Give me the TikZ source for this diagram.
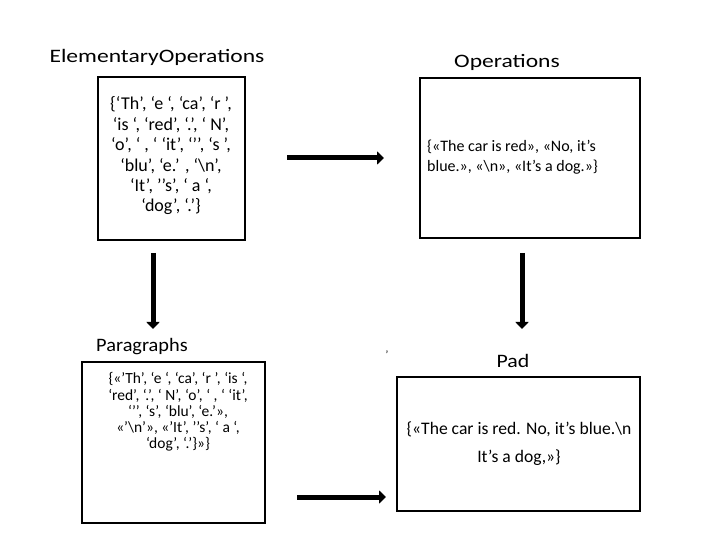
\documentclass[tikz,border=0pt]{standalone}
\usepackage{fontspec}
\usepackage{graphicx}
\setmainfont{Carlito}
\usetikzlibrary{arrows.meta}
\newcommand{\hstretch}[2]{\scalebox{#1}[1]{#2}}
\begin{document}
\begin{tikzpicture}[x=1pt,y=-1pt,
  boxe/.style={draw,line width=2.4pt},
  lbl/.style={font=\fontsize{19}{22}\selectfont,inner sep=0pt},
  txt/.style={align=center,inner sep=0pt},
  bigarrow/.style={line width=5pt,-{Triangle[width=13pt,length=7pt]}}]
\useasboundingbox (0,0) rectangle (715,553);
% boxes
\draw[boxe] (98,77) rectangle (245,240);
\draw[boxe] (420,78) rectangle (640,238);
\draw[boxe] (82,362) rectangle (265,523);
\draw[boxe] (397,377) rectangle (640,511);
% labels
\node[lbl] (l1) at (157,57) {\hstretch{1.24}{ElementaryOperations}};
\node[lbl] (l2) at (507,62) {\hstretch{1.24}{Operations}};
\node[lbl] (l3) at (142,347) {\hstretch{1.07}{Paragraphs}};
\node[lbl] (l4) at (513,361) {\hstretch{1.15}{Pad}};
\node[inner sep=0pt,font=\fontsize{11}{12}\selectfont] (mark) at (387,355) {’};
% texts
\node[txt,font=\fontsize{18}{20.4}\selectfont] (t1) at (171,156) {\{‘Th’, ‘e ‘, ‘ca’, ‘r ’,\\ ‘is ‘, ‘red’, ‘.’, ‘ N’,\\ ‘o’, ‘ , ‘ ‘it’, ‘’’, ‘s ’,\\ ‘blu’, ‘e.’ , ‘\textbackslash n’,\\ ‘It’, ’’s’, ‘ a ‘,\\ ‘dog’, ‘.’\}};
\node[txt,anchor=west,align=left,font=\fontsize{16}{20}\selectfont] (t2) at (427,157) {\{«The car is red», «No, it’s\\ blue.», «\textbackslash n», «It’s a dog.»\}};
\node[txt,font=\fontsize{15.5}{16.2}\selectfont] (t3) at (178,412) {\{«’Th’, ‘e ‘, ‘ca’, ‘r ’, ‘is ‘,\\ ‘red’, ‘.’, ‘ N’, ‘o’, ‘ , ‘ ‘it’,\\ ‘’’, ‘s’, ‘blu’, ‘e.’»,\\ «’\textbackslash n’», «’It’, ’’s’, ‘ a ‘,\\ ‘dog’, ‘.’\}»\}};
\node[txt,font=\fontsize{17.6}{28}\selectfont] (t4) at (519,444) {\{«The car is red. No, it’s blue.\textbackslash n\\ It’s a dog,»\}};
% arrows
\coordinate (a1s) at (287,158); \coordinate (a1e) at (384,158);
\coordinate (a2s) at (297,497); \coordinate (a2e) at (386,497);
\coordinate (a3s) at (153,253); \coordinate (a3e) at (153,329);
\coordinate (a4s) at (522,253); \coordinate (a4e) at (522,329);
\draw[bigarrow] (a1s) -- (a1e);
\draw[bigarrow] (a2s) -- (a2e);
\draw[bigarrow] (a3s) -- (a3e);
\draw[bigarrow] (a4s) -- (a4e);
\end{tikzpicture}
\end{document}
